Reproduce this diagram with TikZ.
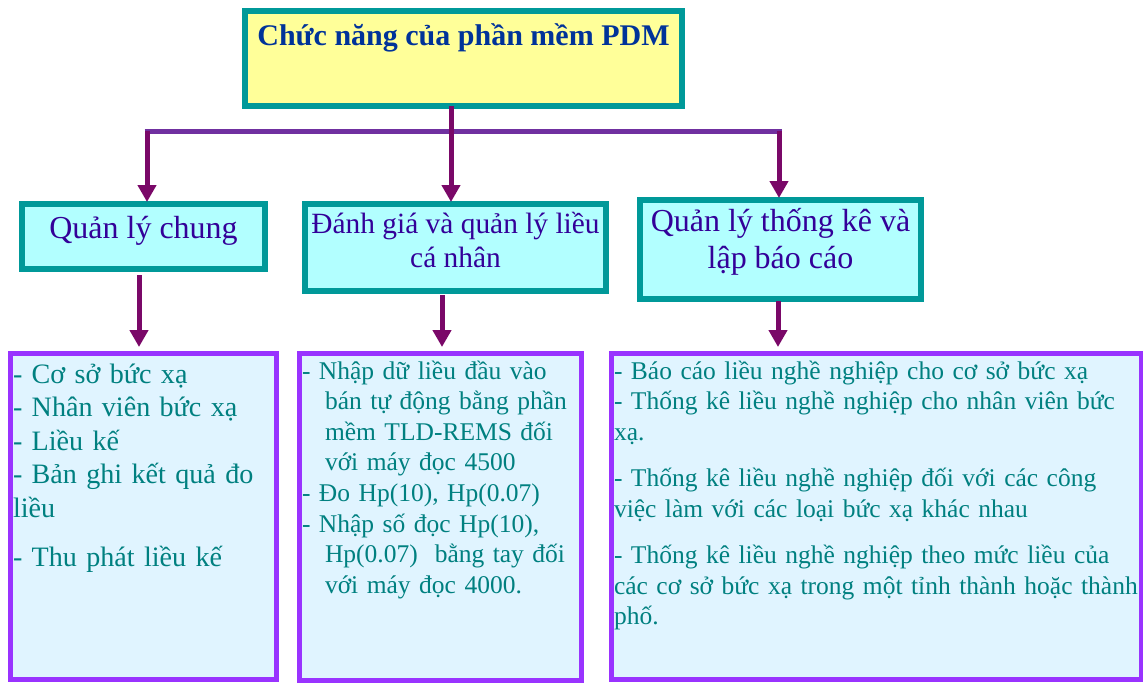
\documentclass[tikz,border=0pt]{standalone}
\usepackage{fontspec}
\setmainfont{Liberation Serif}
\usepackage{xcolor}
\usetikzlibrary{arrows.meta,positioning}

\definecolor{tealline}{RGB}{0,153,153}
\definecolor{titlefill}{RGB}{255,255,153}
\definecolor{titleblue}{RGB}{0,51,153}
\definecolor{groupfill}{RGB}{178,255,255}
\definecolor{groupblue}{RGB}{51,0,153}
\definecolor{listline}{RGB}{153,51,255}
\definecolor{listfill}{RGB}{224,244,255}
\definecolor{listtext}{RGB}{0,128,128}
\definecolor{railpurple}{RGB}{112,48,160}
\definecolor{flowpurple}{RGB}{122,8,104}

% struts to fix the first baseline and the bottom edge of a box
\newcommand{\topstrut}[1]{\rule{0pt}{#1}}
\newcommand{\botstrut}[1]{\rule[-#1]{0pt}{#1}}

\begin{document}
\begin{tikzpicture}[x=1pt, y=-1pt,
    titlebox/.style={draw=tealline, line width=6pt, fill=titlefill, inner sep=0pt, outer sep=0pt,
      minimum width=437pt, text=titleblue, font={\fontsize{30}{36}\selectfont\bfseries}},
    groupbox/.style={draw=tealline, line width=6pt, fill=groupfill, inner sep=0pt, outer sep=0pt,
      align=center, text=groupblue, anchor=north},
    listbox/.style={draw=listline, line width=5pt, fill=listfill, inner xsep=3pt, inner ysep=0pt,
      outer sep=0pt, align=left, text=listtext, anchor=north west},
    rail/.style={draw=railpurple, line width=5pt},
    flow/.style={draw=flowpurple, line width=5pt, -{Triangle[length=17pt, width=18pt]}}]
  \useasboundingbox (0,0) rectangle (1143,683);
  % 1 unit = 1 px of the slide
  \node[titlebox, anchor=north] (pdm) at (463.5,11)
    {\topstrut{34pt}Chức năng của phần mềm PDM\botstrut{61pt}};

  \node[groupbox, minimum width=243pt, font={\fontsize{32}{37}\selectfont}] (qlc) at (143.5,204)
    {\topstrut{34pt}Quản lý chung\botstrut{31pt}};
  \node[groupbox, minimum width=301pt, font={\fontsize{29.4}{34}\selectfont}] (dgql) at (455.5,204)
    {\topstrut{29pt}Đánh giá và quản lý liều\\ cá nhân\botstrut{24pt}};
  \node[groupbox, minimum width=281pt, font={\fontsize{32}{37}\selectfont}] (tkbc) at (780.5,200)
    {\topstrut{31pt}Quản lý thống kê và\\ lập báo cáo\botstrut{31pt}};

  \node[listbox, text width=260pt, font={\fontsize{28.1}{33.5}\selectfont}] (cosc) at (10,353)
    {\topstrut{30pt}- Cơ sở bức xạ\\- Nhân viên bức xạ\\- Liều kế\\- Bản ghi kết quả đo\\liều\\[16pt]%
     - Thu phát liều kế\botstrut{113pt}};
  \node[listbox, text width=276pt, font={\fontsize{25.5}{30.6}\selectfont}] (nhap) at (299,353)
    {\topstrut{26pt}- Nhập dữ liều đầu vào\\\hspace*{23pt}bán tự động bằng phần\\%
     \hspace*{23pt}mềm TLD-REMS đối\\\hspace*{23pt}với máy đọc 4500\\- Đo Hp(10), Hp(0.07)\\%
     - Nhập số đọc Hp(10),\\\hspace*{23pt}Hp(0.07)\ \ bằng tay đối\\\hspace*{23pt}với máy đọc 4000.\botstrut{87pt}};
  \node[listbox, text width=524pt, font={\fontsize{25.5}{30.5}\selectfont}] (baocao) at (611,353)
    {\topstrut{26pt}- Báo cáo liều nghề nghiệp cho cơ sở bức xạ\\%
     - Thống kê liều nghề nghiệp cho nhân viên bức\\xạ.\\[16pt]%
     - Thống kê liều nghề nghiệp đối với các công\\việc làm với các loại bức xạ khác nhau\\[16pt]%
     - Thống kê liều nghề nghiệp theo mức liều của\\các cơ sở bức xạ trong một tỉnh thành hoặc thành\\%
     phố.\botstrut{55pt}};

  % fork under the title
  \coordinate (barL) at (144.5,131);
  \coordinate (barR) at (781.5,131);
  \coordinate (forkL) at (147,131);
  \coordinate (forkM) at (451,131);
  \coordinate (forkR) at (779,131);
  \draw[rail] (barL) -- (barR);
  \draw[flow, shorten >=2pt] (pdm.south -| forkM) -- (dgql.north -| forkM);
  \draw[flow, shorten >=2pt] (forkL) -- (qlc.north -| forkL);
  \draw[flow, shorten >=2pt] (forkR) -- (tkbc.north -| forkR);

  \draw[flow] ([xshift=-4.5pt, yshift=-6pt]qlc.south) -- ([xshift=-4pt, yshift=6pt]cosc.north);
  \draw[flow] ([xshift=-13.5pt, yshift=-4pt]dgql.south) -- ([xshift=2pt, yshift=6pt]nhap.north);
  \draw[flow] ([xshift=-2.5pt, yshift=-2pt]tkbc.south) -- ([xshift=-98pt, yshift=6pt]baocao.north);
\end{tikzpicture}
\end{document}
